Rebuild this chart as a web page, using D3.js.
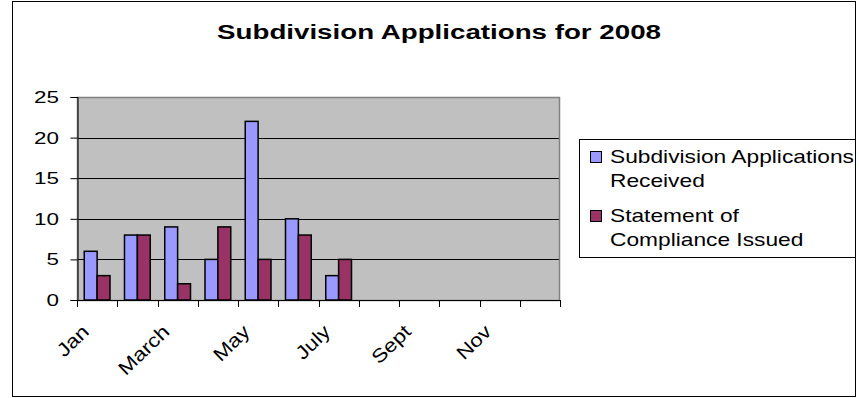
<!DOCTYPE html>
<html><head><meta charset="utf-8">
<script src="https://cdn.jsdelivr.net/npm/d3@7"></script>
<style>html,body{margin:0;padding:0;background:#fff}svg{display:block}</style>
</head><body>
<script>
const months = ["Jan","Feb","March","April","May","June","July","Aug","Sept","Oct","Nov","Dec"];
const seriesNames = ["Subdivision Applications Received","Statement of Compliance Issued"];
const received = [6, 8, 9, 5, 22, 10, 3, null, null, null, null, null];
const compliance = [3, 8, 2, 9, 5, 8, 5, null, null, null, null, null];
const yTicks = [0, 5, 10, 15, 20, 25];
const colors = ["#9999FF", "#993366"];
const title = "Subdivision Applications for 2008";
const legendLines = [["Subdivision Applications","Received"],["Statement of","Compliance Issued"]];

const W = 859, H = 398;
const SX = 1.36;
const FONT = "Arial, 'Liberation Sans', sans-serif";
const svg = d3.select("body").append("svg").attr("width", W).attr("height", H);

// chart border
svg.append("rect").attr("x", 12.5).attr("y", 1.5).attr("width", 843).attr("height", 395)
  .attr("fill", "#fff").attr("stroke", "#000").attr("stroke-width", 1);

const plot = {l: 77, r: 560, t: 97, b: 300};
const x = d3.scaleBand().domain(months).range([plot.l, plot.r]).paddingInner(0).paddingOuter(0);
const y = d3.scaleLinear().domain([0, 25]).range([plot.b, plot.t]);
const groupW = x.bandwidth() * 0.64;
const xs = d3.scaleBand().domain([0, 1]).range([0, groupW]);

function stext(g, tx, ty, str, size, anchor, sx, rot) {
  return g.append("text")
    .attr("transform", `translate(${tx},${ty})` + (rot ? ` rotate(${rot})` : "") + ` scale(${sx},1)`)
    .attr("text-anchor", anchor).attr("font-family", FONT).attr("font-size", size)
    .attr("fill", "#000").text(str);
}

// title
svg.append("text").attr("transform", `translate(439,39) scale(1.32,1)`)
  .attr("text-anchor", "middle").attr("font-family", FONT).attr("font-size", 21)
  .attr("font-weight", "bold").text(title);

// plot background
svg.append("rect").attr("x", plot.l).attr("y", plot.t).attr("width", plot.r - plot.l)
  .attr("height", plot.b - plot.t).attr("fill", "#C0C0C0");

// gridlines
svg.append("g").selectAll("line").data(yTicks.filter(v => v > 0 && v < 25)).join("line")
  .attr("x1", plot.l).attr("x2", plot.r)
  .attr("y1", d => Math.round(y(d)) + 0.5).attr("y2", d => Math.round(y(d)) + 0.5)
  .attr("stroke", "#000").attr("stroke-width", 1);

// plot border
svg.append("rect").attr("x", plot.l + 0.5).attr("y", plot.t + 0.5).attr("width", plot.r - plot.l - 1)
  .attr("height", plot.b - plot.t).attr("fill", "none").attr("stroke", "#808080").attr("stroke-width", 1.5);

// bars
const data = months.map((m, i) => ({m, vals: [received[i], compliance[i]]}));
const groups = svg.append("g").selectAll("g").data(data).join("g")
  .attr("transform", d => `translate(${x(d.m) + (x.bandwidth() - groupW) / 2},0)`);
groups.selectAll("rect").data(d => d.vals.map((v, k) => ({v, k})).filter(e => e.v != null)).join("rect")
  .attr("x", e => xs(e.k)).attr("width", xs.bandwidth())
  .attr("y", e => y(e.v)).attr("height", e => y(0) - y(e.v))
  .attr("fill", e => colors[e.k]).attr("stroke", "#000").attr("stroke-width", 1.5);

// y axis
const yAxis = d3.axisLeft(y).tickValues(yTicks).tickSize(7).tickFormat(d3.format("d"));
const yg = svg.append("g").attr("transform", `translate(${plot.l + 0.5},0)`).call(yAxis);
yg.select(".domain").attr("stroke", "#000");
yg.selectAll(".tick line").attr("stroke", "#000");
yg.selectAll(".tick text").remove();
yTicks.forEach(v => stext(svg, 59, y(v) + 6, String(v), 16.5, "end", SX));

// x axis
const xAxis = d3.axisBottom(x).tickSize(0).tickFormat("");
const xg = svg.append("g").attr("transform", `translate(0,${plot.b + 0.5})`).call(xAxis);
xg.select(".domain").attr("stroke", "#000").attr("d", `M${plot.l},0H${plot.r}`);
const bounds = months.map(m => x(m)).concat([plot.r]);
svg.append("g").selectAll("line").data(bounds).join("line")
  .attr("x1", d => Math.round(d) + 0.5).attr("x2", d => Math.round(d) + 0.5)
  .attr("y1", plot.b).attr("y2", plot.b + 7).attr("stroke", "#000");
months.forEach((m, i) => {
  if (i % 2 === 0) {
    stext(svg, x(m) + x.bandwidth() / 2 - 7, plot.b + 33, m, 19, "end", 1.18, -44);
  }
});

// legend
const lg = svg.append("g");
lg.append("rect").attr("x", 579.5).attr("y", 139.5).attr("width", 276).attr("height", 118)
  .attr("fill", "#fff").attr("stroke", "#000");
const legendY = [163, 222];
seriesNames.forEach((s, k) => {
  lg.append("rect").attr("x", 590.5).attr("y", legendY[k] - 11.5).attr("width", 11).attr("height", 11)
    .attr("fill", colors[k]).attr("stroke", "#000").attr("stroke-width", 1);
  legendLines[k].forEach((line, j) => stext(lg, 610, legendY[k] + j * 24, line, 17.5, "start", 1.3));
});
</script>
</body></html>
